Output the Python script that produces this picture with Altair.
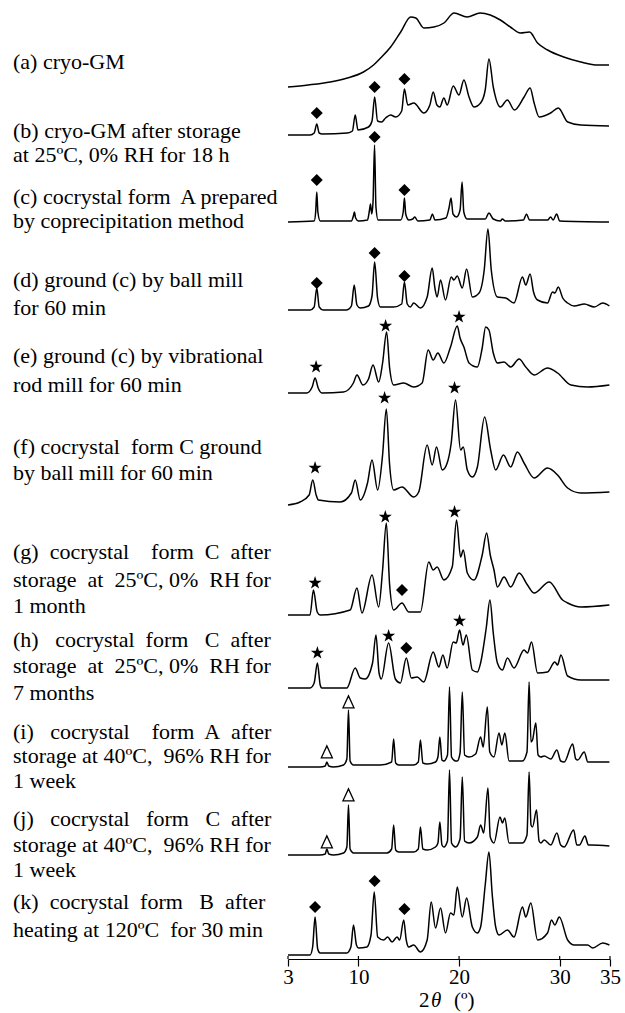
import altair as alt
import pandas as pd

# ---------------- data ----------------
TRACE_IDS = ["a", "b", "c", "d", "e", "f", "g", "h", "i", "j", "k"]
# stacking offset of each pattern (intensity units)
BASELINES = [875, 827, 740, 652, 569, 457, 347, 274, 195, 107, 7]

trace_a = [(3.0, 0), (5.0, 2), (7.2, 5), (8.9, 9), (10.5, 15), (11.5, 22), (12.2, 29), (13.2, 40),
           (14.2, 55), (15.2, 70), (15.7, 69), (16.5, 59), (17.5, 60), (18.5, 64), (19.5, 74),
           (20.8, 70), (22.1, 74), (23.1, 72), (24.1, 67), (25.1, 60), (26.1, 54), (27.0, 55),
           (27.8, 44), (28.8, 37), (30.4, 30), (32.1, 25), (33.8, 22), (34.9, 22)]
trace_b = [(3.0, 0), (5.2, 0), (5.6, 2), (5.86, 11), (6.1, 2), (6.4, 1), (8.9, 2), (9.4, 4), (9.68, 20),
           (9.95, 5), (11.0, 8), (11.35, 14), (11.61, 38), (11.9, 14), (12.3, 13), (12.7, 17), (13.2, 20),
           (13.7, 18), (14.3, 24), (14.57, 46), (14.9, 30), (15.5, 32), (16.5, 22), (17.1, 30), (17.43, 43),
           (17.8, 30), (18.09, 28), (18.49, 37), (18.82, 30), (19.42, 49), (19.99, 40), (20.48, 55),
           (20.99, 38), (21.48, 28), (22.14, 32), (22.6, 45), (22.97, 76), (23.4, 48), (24.1, 28),
           (24.8, 35), (25.5, 25), (26.46, 38), (27.06, 47), (27.46, 32), (27.96, 18), (29.1, 22),
           (29.86, 27), (30.8, 13), (32.1, 10), (34.9, 9)]
trace_c = [(3.0, 0), (5.6, 1), (5.75, 10), (5.86, 30), (5.97, 10), (6.2, 1), (9.3, 1), (9.5, 6), (9.6, 10),
           (9.72, 4), (10.0, 1), (10.9, 2), (11.1, 12), (11.2, 18), (11.32, 8), (11.45, 20), (11.6, 77),
           (11.74, 15), (11.95, 2), (14.2, 2), (14.45, 10), (14.57, 24), (14.7, 8), (15.0, 2), (15.4, 3),
           (15.6, 5), (15.9, 1), (17.1, 2), (17.35, 8), (17.6, 2), (18.7, 4), (19.0, 14), (19.2, 24),
           (19.4, 8), (19.75, 5), (20.1, 12), (20.3, 40), (20.47, 10), (20.8, 3), (22.6, 3), (22.97, 9),
           (23.4, 3), (24.1, 1), (24.3, 3), (24.6, 1), (26.4, 2), (26.7, 8), (27.0, 2), (28.8, 2),
           (29.1, 5), (29.35, 2), (29.7, 8), (30.0, 1), (34.9, 0)]
trace_d = [(3.0, 0), (5.2, 0), (5.6, 3), (5.86, 22), (6.1, 3), (6.5, 0), (8.85, 0), (9.3, 4), (9.58, 25),
           (9.85, 5), (10.18, 2), (11.0, 4), (11.35, 14), (11.61, 48), (11.9, 12), (12.17, 3), (13.5, 3),
           (14.3, 6), (14.57, 28), (14.85, 6), (15.16, 3), (15.49, 7), (16.16, 2), (16.83, 13), (17.33, 42),
           (17.6, 22), (17.82, 13), (18.16, 30), (18.65, 10), (19.22, 33), (19.49, 30), (19.82, 34),
           (20.32, 22), (20.75, 41), (21.32, 13), (21.99, 17), (22.5, 40), (22.87, 81), (23.2, 40),
           (23.81, 13), (24.64, 12), (25.46, 7), (26.3, 33), (26.63, 25), (27.06, 36), (27.4, 18),
           (27.8, 10), (28.79, 7), (29.29, 18), (29.52, 17), (29.86, 23), (30.3, 12), (30.79, 7),
           (31.45, 4), (32.44, 6), (33.44, 3), (34.28, 7), (34.94, 4)]
trace_e = [(3.0, 0), (4.86, 0), (5.4, 6), (5.69, 15), (6.0, 5), (6.36, 0), (8.52, 1), (9.5, 10), (9.85, 18),
           (10.45, 8), (11.0, 14), (11.45, 28), (12.01, 11), (12.4, 30), (12.8, 61), (13.1, 25), (13.5, 8),
           (14.5, 10), (15.49, 6), (16.33, 10), (16.93, 43), (17.43, 33), (17.89, 40), (18.49, 30),
           (19.15, 46), (19.82, 67), (20.1, 55), (20.48, 46), (20.99, 30), (21.82, 26), (22.3, 45),
           (22.64, 66), (22.97, 63), (23.4, 40), (23.81, 30), (24.47, 31), (25.13, 26), (25.97, 34),
           (26.63, 26), (27.46, 18), (28.79, 25), (29.79, 20), (31.12, 8), (32.78, 6), (34.94, 8)]
trace_f = [(3.0, 0), (4.2, 3), (5.1, 10), (5.46, 25), (5.8, 10), (6.02, 5), (8.18, 3), (9.3, 12), (9.68, 25),
           (10.18, 5), (10.9, 22), (11.35, 45), (11.91, 15), (12.4, 50), (12.77, 96), (13.1, 40), (13.5, 15),
           (14.33, 18), (15.49, 8), (15.99, 13), (16.83, 60), (17.33, 40), (17.76, 58), (18.33, 35),
           (18.82, 42), (19.22, 62), (19.65, 105), (20.15, 55), (20.42, 58), (20.82, 35), (21.32, 28),
           (21.82, 38), (22.54, 88), (23.14, 55), (23.64, 35), (24.41, 50), (25.13, 38), (25.8, 53),
           (26.46, 42), (27.46, 27), (28.79, 37), (29.79, 30), (30.79, 17), (32.11, 12), (34.94, 13)]
trace_g = [(3.0, 0), (5.19, 0), (5.53, 25), (5.9, 3), (6.19, 0), (9.18, 5), (9.85, 27), (10.35, 2),
           (11.35, 40), (12.01, 8), (12.4, 45), (12.77, 92), (13.1, 30), (13.5, 5), (14.33, 12), (15.0, 3),
           (16.16, 3), (16.99, 53), (17.43, 45), (17.82, 48), (18.49, 35), (19.32, 48), (19.75, 95),
           (20.15, 58), (20.42, 65), (20.82, 42), (21.48, 35), (22.3, 60), (22.74, 82), (23.1, 60),
           (23.47, 45), (23.81, 28), (24.47, 38), (25.13, 28), (25.97, 42), (26.8, 30), (27.46, 22),
           (28.96, 33), (30.29, 15), (30.79, 12), (32.11, 8), (34.94, 10)]
trace_h = [(3.0, 0), (5.19, 0), (5.6, 5), (5.92, 25), (6.2, 3), (6.36, 0), (8.85, 0), (9.68, 20), (10.18, 10),
           (10.68, 9), (11.4, 25), (11.74, 53), (12.05, 15), (12.27, 9), (13.0, 45), (13.67, 9), (14.17, 5),
           (14.76, 30), (15.26, 10), (15.83, 11), (16.49, 6), (17.43, 36), (17.99, 21), (18.39, 33),
           (18.82, 20), (19.42, 46), (19.72, 45), (20.05, 58), (20.39, 43), (20.72, 53), (21.32, 18),
           (21.82, 16), (22.14, 25), (22.7, 60), (23.07, 88), (23.4, 55), (23.81, 25), (24.31, 18),
           (24.81, 30), (25.46, 20), (26.46, 38), (26.8, 35), (27.2, 46), (27.8, 15), (28.79, 16),
           (29.52, 26), (29.79, 23), (30.12, 33), (30.79, 12), (32.11, 8), (34.94, 8)]
trace_i = [(3.0, 0), (6.19, 0), (6.7, 1), (6.86, 5), (7.05, 1), (7.52, 0), (8.52, 2), (8.85, 8), (9.01, 57),
           (9.17, 6), (9.51, 2), (12.17, 2), (13.3, 5), (13.5, 28), (13.7, 4), (14.0, 2), (15.49, 2),
           (15.95, 5), (16.16, 27), (16.4, 4), (16.83, 3), (17.66, 5), (17.9, 10), (18.09, 30), (18.3, 7),
           (18.49, 6), (18.85, 12), (19.05, 80), (19.25, 10), (19.65, 6), (19.82, 6), (20.1, 14),
           (20.32, 75), (20.55, 12), (20.99, 10), (21.65, 13), (22.14, 30), (22.4, 20), (22.81, 60),
           (23.05, 15), (23.47, 10), (23.97, 34), (24.25, 22), (24.55, 34), (24.97, 6), (26.3, 6),
           (26.75, 15), (26.96, 85), (27.15, 25), (27.3, 27), (27.63, 44), (27.85, 12), (28.13, 10),
           (28.46, 11), (29.12, 8), (29.72, 17), (30.1, 6), (30.45, 5), (31.29, 23), (31.6, 8),
           (31.79, 7), (32.44, 15), (32.8, 5), (33.11, 5), (34.94, 5)]
trace_j = [(3.0, 0), (6.19, 0), (6.7, 1), (6.86, 6), (7.05, 1), (7.52, 0), (8.52, 2), (8.85, 8), (9.01, 50),
           (9.17, 6), (9.51, 2), (12.84, 2), (13.3, 6), (13.5, 30), (13.7, 5), (14.0, 3), (15.49, 3),
           (15.95, 6), (16.16, 28), (16.4, 6), (16.83, 5), (17.66, 8), (17.9, 12), (18.09, 33), (18.3, 10),
           (18.49, 8), (18.85, 14), (19.05, 85), (19.25, 12), (19.65, 8), (20.1, 16), (20.32, 78),
           (20.55, 14), (20.99, 12), (21.82, 18), (22.14, 30), (22.45, 22), (22.87, 67), (23.1, 18),
           (23.47, 12), (24.07, 38), (24.31, 32), (24.54, 37), (24.97, 12), (26.3, 12), (26.75, 20),
           (26.96, 83), (27.15, 30), (27.3, 28), (27.7, 45), (27.95, 14), (28.13, 12), (28.46, 15),
           (29.12, 10), (29.72, 22), (30.1, 10), (30.45, 8), (31.39, 25), (31.7, 10), (31.96, 10),
           (32.51, 19), (32.85, 10), (33.11, 10), (34.94, 9)]
trace_k = [(3.0, 0), (5.19, 0), (5.45, 8), (5.69, 38), (5.95, 6), (6.19, 2), (8.85, 2), (9.25, 8), (9.51, 30),
           (9.8, 10), (10.01, 7), (10.84, 8), (11.25, 20), (11.57, 63), (11.91, 18), (12.51, 15), (12.9, 18),
           (13.34, 13), (13.84, 18), (14.1, 15), (14.5, 35), (14.75, 15), (15.0, 8), (15.49, 10), (16.16, 3),
           (16.83, 15), (17.23, 53), (17.66, 27), (18.16, 47), (18.65, 22), (19.15, 42), (19.49, 40),
           (19.82, 68), (20.32, 38), (20.75, 57), (21.32, 28), (21.82, 22), (22.14, 28), (22.6, 70),
           (22.97, 103), (23.3, 60), (23.64, 28), (23.97, 20), (24.81, 25), (25.46, 18), (26.3, 48),
           (26.63, 38), (27.13, 52), (27.8, 15), (28.79, 22), (29.19, 35), (29.52, 30), (29.96, 38),
           (30.79, 15), (31.45, 10), (32.78, 10), (33.28, 7), (34.28, 12), (34.94, 10)]
TRACES = [trace_a, trace_b, trace_c, trace_d, trace_e, trace_f, trace_g, trace_h, trace_i, trace_j, trace_k]

# peak markers: (trace, 2theta, height above that trace's baseline)
DIAMONDS = [("b", 5.86, 22), ("b", 11.61, 48), ("b", 14.57, 56),
            ("c", 5.86, 42), ("c", 11.61, 85), ("c", 14.57, 32),
            ("d", 5.86, 27), ("d", 11.61, 57), ("d", 14.57, 34),
            ("g", 14.33, 25), ("h", 14.76, 40),
            ("k", 5.69, 48), ("k", 11.61, 74), ("k", 14.57, 46)]
STARS = [("e", 5.79, 26), ("e", 12.7, 67), ("e", 20.0, 76),
         ("f", 5.69, 37), ("f", 12.6, 107), ("f", 19.55, 117),
         ("g", 5.69, 32), ("g", 12.67, 98), ("g", 19.55, 103),
         ("h", 5.92, 35), ("h", 13.0, 52), ("h", 20.05, 67)]
TRIANGLES = [("i", 6.86, 15), ("i", 9.01, 65), ("j", 6.86, 13), ("j", 9.01, 60)]

NB = "\u00a0"
LABEL_LINES = [
    "(a) cryo-GM",
    "(b) cryo-GM after storage", "at 25ºC, 0% RH for 18 h",
    "(c) cocrystal form" + NB + " A prepared", "by coprecipitation method",
    "(d) ground (c) by ball mill", "for 60 min",
    "(e) ground (c) by vibrational", "rod mill for 60 min",
    "(f) cocrystal" + NB + " form C ground", "by ball mill for 60 min",
    "(g)" + NB + " cocrystal" + NB * 3 + " form" + NB + " C" + NB + " after",
    "storage" + NB + " at" + NB + " 25ºC, 0%" + NB + " RH for", "1 month",
    "(h)" + NB * 2 + " cocrystal" + NB + " form" + NB * 2 + " C" + NB + " after",
    "storage" + NB + " at" + NB + " 25ºC, 0%" + NB + " RH for", "7 months",
    "(i)" + NB * 2 + " cocrystal" + NB * 3 + " form" + NB + " A" + NB + " after",
    "storage at 40ºC," + NB + " 96% RH for", "1 week",
    "(j)" + NB * 2 + " cocrystal" + NB * 2 + " form" + NB * 2 + " C" + NB + " after",
    "storage at 40ºC," + NB + " 96% RH for", "1 week",
    "(k)" + NB + " cocrystal" + NB + " form" + NB * 2 + " B" + NB + " after",
    "heating at 120ºC" + NB + " for 30 min",
]
LABEL_Y = [893, 824.5, 800.3, 758, 734, 675.5, 647, 599, 570.3, 508, 482,
           403, 375.3, 348.7, 315, 288.7, 262, 223, 199, 174, 136, 110.3, 85.3, 53, 25.3]

TICKS = [3, 10, 20, 30, 35]
AXIS_TITLE = ["2", "θ", "(º)"]

# ---------------- build tables ----------------
rows = []
for tid, base, pts in zip(TRACE_IDS, BASELINES, TRACES):
    for i, (tt, inten) in enumerate(pts):
        rows.append({"trace": tid, "order": i, "two_theta": tt, "y": base + inten})
df = pd.DataFrame(rows)

base_of = dict(zip(TRACE_IDS, BASELINES))


def marker_df(lst):
    return pd.DataFrame([{"trace": t, "two_theta": x, "y": base_of[t] + h} for t, x, h in lst])


labels_df = pd.DataFrame({"text": LABEL_LINES, "y": LABEL_Y})
ticks_df = pd.DataFrame({"two_theta": TICKS})

FONT = "Liberation Serif"
PLOT_H = 954
x_scale = alt.Scale(domain=[3, 35], nice=False, zero=False)
y_scale = alt.Scale(domain=[3, 957], nice=False, zero=False)


def xenc():
    return alt.X("two_theta:Q", scale=x_scale,
                 axis=alt.Axis(values=TICKS, title=None, grid=False, labelFont=FONT, labelFontSize=21,
                               labelColor="black", tickColor="black", domainColor="black",
                               tickSize=7, tickWidth=1.2, domainWidth=1.2, labelPadding=0,
                               labelFlush=False, labelOverlap=False))


def yenc():
    return alt.Y("y:Q", scale=y_scale, axis=None)


lines = alt.Chart(df).mark_line(color="black", strokeWidth=1.5, strokeJoin="round",
                                interpolate="monotone").encode(
    x=xenc(), y=yenc(), detail="trace:N", order="order:Q")

# small tick stubs above the axis line (ticks cross the axis in the reference)
tick_stubs = alt.Chart(ticks_df).mark_rule(color="black", strokeWidth=1.2).encode(
    x=xenc(), y=alt.value(PLOT_H - 3), y2=alt.value(PLOT_H))

diamonds = alt.Chart(marker_df(DIAMONDS)).mark_point(
    shape="diamond", filled=True, color="black", size=144, opacity=1).encode(x=xenc(), y=yenc())

STAR_PATH = ("M0,-1L0.2245,-0.309L0.951,-0.309L0.363,0.118L0.588,0.809L0,0.382"
             "L-0.588,0.809L-0.363,0.118L-0.951,-0.309L-0.2245,-0.309Z")
stars = alt.Chart(marker_df(STARS)).mark_point(
    shape=STAR_PATH, filled=True, color="black", size=190, opacity=1).encode(x=xenc(), y=yenc())

TRI_PATH = "M0,-1L0.9,0.95L-0.9,0.95Z"
triangles = alt.Chart(marker_df(TRIANGLES)).mark_point(
    shape=TRI_PATH, filled=True, fill="white", stroke="black", strokeWidth=1.3, size=150,
    opacity=1).encode(x=xenc(), y=yenc())

labels = alt.Chart(labels_df).mark_text(
    align="left", baseline="alphabetic", font=FONT, fontSize=22, color="black").encode(
    x=alt.value(-275), y=yenc(), text="text:N")

# axis title 2θ (º) with italic theta
TITLE_Y = 1002
TITLE_FS = 21
t1 = alt.Chart(pd.DataFrame({"text": [AXIS_TITLE[0]]})).mark_text(
    align="left", baseline="alphabetic", font=FONT, fontSize=TITLE_FS, color="black").encode(
    x=alt.value(131), y=alt.value(TITLE_Y), text="text:N")
t2 = alt.Chart(pd.DataFrame({"text": [AXIS_TITLE[1]]})).mark_text(
    align="left", baseline="alphabetic", font=FONT, fontSize=TITLE_FS, fontStyle="italic",
    color="black").encode(x=alt.value(143), y=alt.value(TITLE_Y), text="text:N")
t3 = alt.Chart(pd.DataFrame({"text": [AXIS_TITLE[2]]})).mark_text(
    align="left", baseline="alphabetic", font=FONT, fontSize=TITLE_FS, color="black").encode(
    x=alt.value(166), y=alt.value(TITLE_Y), text="text:N")

chart = alt.layer(lines, tick_stubs, diamonds, stars, triangles, labels, t1, t2, t3).properties(
    width=322, height=PLOT_H,
    autosize=alt.AutoSizeParams(type="none"),
    padding={"left": 288, "top": 5, "right": 15, "bottom": 54},
    background="white",
).configure_view(stroke=None)

chart.save("out.html", embed_options={"renderer": "svg", "actions": False})
